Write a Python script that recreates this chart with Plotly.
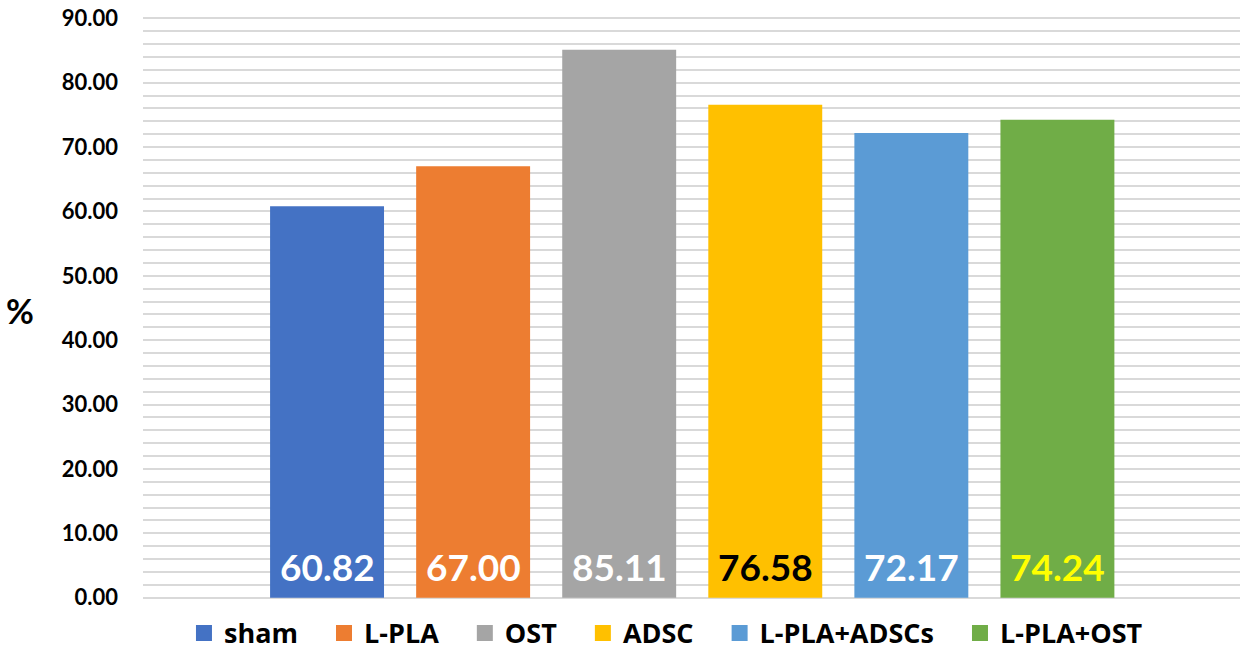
import plotly.graph_objects as go

groups = ["sham", "L-PLA", "OST", "ADSC", "L-PLA+ADSCs", "L-PLA+OST"]
values = [60.82, 67.00, 85.11, 76.58, 72.17, 74.24]
bar_colors = ["#4472C4", "#ED7D31", "#A5A5A5", "#FFC000", "#5B9BD5", "#70AD47"]
label_colors = ["#FFFFFF", "#FFFFFF", "#FFFFFF", "#000000", "#FFFFFF", "#FFFF00"]
y_ticks = [0, 10, 20, 30, 40, 50, 60, 70, 80, 90]

FONT = "Lato"
LEGEND_FONT = "Open Sans"
PAD = "\u00a0" * 3

fig = go.Figure()
for g, v, c in zip(groups, values, bar_colors):
    fig.add_trace(go.Bar(x=[g], y=[v], name=g, marker=dict(color=c, line=dict(width=0)),
                         showlegend=False, hoverinfo="name+y"))
# legend entries with larger square swatches
for g, c in zip(groups, bar_colors):
    fig.add_trace(go.Scatter(x=[None], y=[None], mode="markers", name=g + PAD,
                             marker=dict(symbol="square", size=17, color=c),
                             showlegend=True, hoverinfo="skip"))

for g, v, lc in zip(groups, values, label_colors):
    fig.add_annotation(x=g, y=0, yanchor="bottom", xanchor="center", yshift=7,
                       text=f"{v:.2f}", showarrow=False,
                       font=dict(family=FONT, size=37, color=lc, weight="bold"))

fig.add_annotation(xref="paper", yref="paper", x=-0.112, y=0.495, text="%",
                   showarrow=False, xanchor="center", yanchor="middle",
                   font=dict(family=FONT, size=34, color="#000000", weight="bold"))

fig.update_layout(
    width=1243, height=650,
    margin=dict(l=143, r=3, t=17, b=51, autoexpand=False),
    paper_bgcolor="white", plot_bgcolor="white",
    barmode="overlay", bargap=0.22,
    showlegend=True,
    legend=dict(orientation="h", x=0.4863, xanchor="center", y=-0.059, yanchor="middle",
                font=dict(family=LEGEND_FONT, size=27, color="#000000", weight="bold"),
                itemwidth=30, traceorder="normal", itemsizing="trace",
                bgcolor="rgba(0,0,0,0)"),
    xaxis=dict(categoryorder="array", categoryarray=groups, range=[-1.26, 6.25],
               showticklabels=False, showgrid=False, zeroline=False, showline=False,
               ticks="", automargin=False),
    yaxis=dict(range=[-0.2, 90.2], tickvals=y_ticks, ticktext=[f"{t:.2f}" for t in y_ticks],
               showgrid=True, gridcolor="#D9D9D9", gridwidth=2,
               zeroline=False, showline=False, ticks="", automargin=False,
               ticklabeloverflow="allow",
               minor=dict(dtick=2, showgrid=True, gridcolor="#D9D9D9", gridwidth=2),
               ticklabelstandoff=24,
               tickfont=dict(family=FONT, size=22, color="#000000", weight="bold")),
)

# remove the default 8px page margin so the figure fills the window exactly
fig.write_html("out.html", config={"displayModeBar": False},
               post_script="document.body.style.margin='0px';")
